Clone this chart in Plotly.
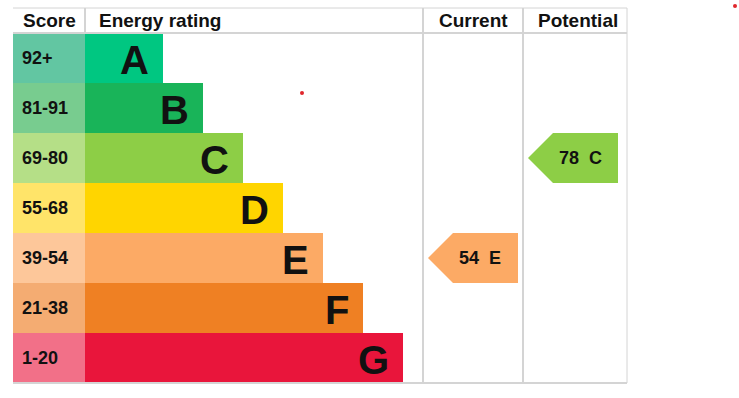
import plotly.graph_objects as go

# ---- data ----
bands = ["A", "B", "C", "D", "E", "F", "G"]
score_ranges = ["92+", "81-91", "69-80", "55-68", "39-54", "21-38", "1-20"]
bar_colors = ["#00c781", "#19b459", "#8dce46", "#ffd500", "#fcaa65", "#ef8023", "#e9153b"]
score_colors = ["#62c6a2", "#78cc8f", "#b5df87", "#ffe469", "#fdc79a", "#f4ac72", "#f27088"]
headers = ["Score", "Energy rating", "Current", "Potential"]
current_score, current_band = 54, "E"
potential_score, potential_band = 78, "C"

# ---- layout constants (pixels) ----
W, H = 739, 398
score_l, rating_l, cur_l, pot_l, right_r = 13, 85, 423, 523, 627
bar_min, bar_step = 78, 40
grid = "#d4d4d4"
font = "Liberation Sans, Arial, sans-serif"

rows = list(range(len(bands)))
bar_len = [bar_min + bar_step * i for i in rows]

fig = go.Figure()

# score cells
fig.add_trace(go.Bar(
    y=rows, x=[rating_l - score_l] * len(rows), base=score_l, orientation="h",
    width=1, marker=dict(color=score_colors, line=dict(width=0)), hoverinfo="skip"))
# rating bars
fig.add_trace(go.Bar(
    y=rows, x=bar_len, base=rating_l, orientation="h",
    width=1, marker=dict(color=bar_colors, line=dict(width=0)), hoverinfo="skip"))

annotations = []
for i, (b, s, L) in enumerate(zip(bands, score_ranges, bar_len)):
    annotations.append(dict(x=score_l + 7, y=i, text=f"<b>{s}</b>", xanchor="left",
                            yanchor="middle", showarrow=False,
                            font=dict(family=font, size=18, color="#111")))
    annotations.append(dict(x=rating_l + L - 12, y=i + 0.03, text=f"<b>{b}</b>", xanchor="right",
                            yanchor="middle", showarrow=False,
                            font=dict(family=font, size=40, color="#111")))


def arrow(col_left, score, band, color):
    r = bands.index(band)
    tip = col_left + 5
    sh = tip + 25
    rt = col_left + 95
    xs = [tip, sh, rt, rt, sh, tip]
    ys = [r, r - 0.5, r - 0.5, r + 0.5, r + 0.5, r]
    fig.add_trace(go.Scatter(x=xs, y=ys, fill="toself", fillcolor=color, mode="lines",
                             line=dict(width=0, color=color), hoverinfo="skip"))
    annotations.append(dict(x=col_left + 57, y=r, text=f"<b>{score}\u00a0\u00a0{band}</b>",
                            xanchor="center", yanchor="middle", showarrow=False,
                            font=dict(family=font, size=18, color="#111")))


arrow(cur_l, current_score, current_band, bar_colors[bands.index(current_band)])
arrow(pot_l, potential_score, potential_band, bar_colors[bands.index(potential_band)])

# headers
hy = -0.76
hx = [(score_l + rating_l) / 2, rating_l + 12, (cur_l + pot_l) / 2, (pot_l + right_r) / 2 + 3]
hanch = ["center", "left", "center", "center"]
for t, x, a in zip(headers, hx, hanch):
    annotations.append(dict(x=x, y=hy, text=f"<b>{t}</b>", xanchor=a, yanchor="middle",
                            showarrow=False, font=dict(family=font, size=19, color="#111")))

# grid lines
shapes = []
top, hbot, bot = -1.0, -0.5, len(bands) - 0.5
for y, w in [(top, 1), (hbot, 2), (bot, 2)]:
    shapes.append(dict(type="line", xref="x", yref="y", x0=score_l, x1=right_r, y0=y, y1=y,
                       line=dict(color=grid, width=w)))
shapes.append(dict(type="line", xref="x", yref="y", x0=rating_l, x1=rating_l, y0=top, y1=hbot,
                   line=dict(color=grid, width=2)))
for x, w in [(cur_l, 2), (pot_l, 2), (right_r, 1)]:
    shapes.append(dict(type="line", xref="x", yref="y", x0=x, x1=x, y0=top, y1=bot,
                       line=dict(color=grid, width=w)))

# small red dots present in the reference
fig.add_trace(go.Scatter(x=[302, 735], y=[0.7, -1.04], mode="markers",
                         marker=dict(color="#e0262c", size=4), hoverinfo="skip"))

fig.update_layout(
    width=W, height=H, margin=dict(l=0, r=0, t=0, b=0),
    paper_bgcolor="white", plot_bgcolor="white", showlegend=False,
    barmode="overlay", bargap=0,
    xaxis=dict(range=[0, W], visible=False, fixedrange=True),
    yaxis=dict(range=[(H - 58) / 50, -58 / 50], visible=False, fixedrange=True),
    annotations=annotations, shapes=shapes,
)
fig.write_html("out.html")
